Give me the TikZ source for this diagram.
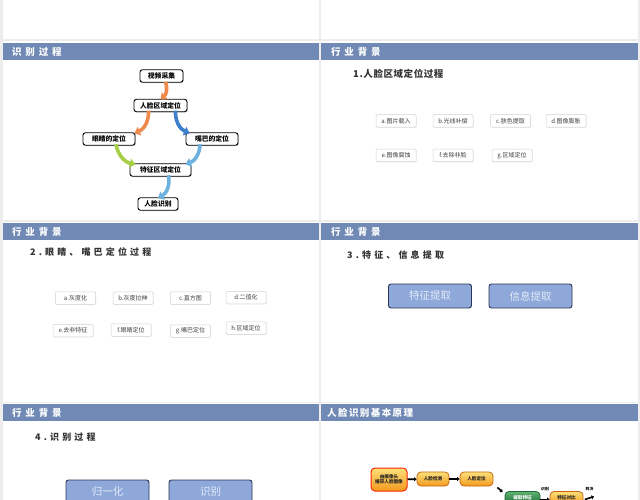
\documentclass[tikz,border=0pt]{standalone}
\usepackage{fontspec}
\setmainfont{Noto Sans CJK SC}
\newfontfamily\hdrfont{Noto Sans CJK SC}[LetterSpace=40]
\newfontfamily\hdrfontb{Noto Sans CJK SC}[LetterSpace=15]
\newfontfamily\ttlfont{Noto Sans CJK SC}[LetterSpace=35]
\newfontfamily\ttlfontb{Noto Sans CJK SC}[LetterSpace=6]
\usetikzlibrary{arrows.meta,shadows,calc}
\definecolor{bggray}{HTML}{EDEDED}
\definecolor{hdrblue}{HTML}{7189B5}
\definecolor{ttlgray}{HTML}{333333}
\definecolor{arrorange}{HTML}{EE8A4C}
\definecolor{arrblue}{HTML}{3F7FCB}
\definecolor{arrgreen}{HTML}{A6CF45}
\definecolor{arrlblue}{HTML}{6DB2DC}
\definecolor{btnfill}{HTML}{8EA8DA}
\definecolor{btnline}{HTML}{2A3756}
\definecolor{btntext}{HTML}{E4EBF7}
\definecolor{oratop}{HTML}{FCE07A}
\definecolor{orabot}{HTML}{F39A1E}
\definecolor{oraline}{HTML}{C8650F}
\definecolor{grntop}{HTML}{5FB36F}
\definecolor{grnbot}{HTML}{1E6B38}
\tikzset{
  hdrtxt/.style={anchor=west, text=white, inner sep=0pt, font=\hdrfont\bfseries\fontsize{9.5}{10}\selectfont},
  ttl/.style={anchor=west, text=ttlgray, inner sep=0pt, font=\ttlfont\bfseries\fontsize{9}{10}\selectfont},
  fbox/.style={draw=black, line width=0.9pt, rounded corners=2.5pt, fill=white, inner sep=1pt,
    minimum height=12.5pt, font=\bfseries\fontsize{6.8}{7}\selectfont,
    drop shadow={opacity=0.35, shadow xshift=0.8pt, shadow yshift=-0.8pt}},
  sbox/.style={draw=gray!35, line width=0.5pt, rounded corners=1pt, fill=white, inner sep=1pt,
    minimum width=40pt, minimum height=12.5pt, text=black!75, font=\fontsize{6}{6}\selectfont,
    drop shadow={opacity=0.15, shadow xshift=0.6pt, shadow yshift=-0.6pt}},
  btn/.style={draw=btnline, line width=0.9pt, rounded corners=2.5pt, fill=btnfill,
    minimum width=83pt, minimum height=24pt, text=btntext, font=\fontsize{10.5}{11}\selectfont},
  fat/.style={line width=3.6pt, -{Triangle[width=9pt,length=5.5pt]}},
  obox/.style={draw=oraline, line width=0.8pt, rounded corners=4pt, top color=oratop, bottom color=orabot,
    minimum height=14pt, inner sep=1pt, text=black!85, font=\bfseries\fontsize{4.6}{5.4}\selectfont},
  gbox/.style={draw=grnbot, line width=0.8pt, rounded corners=4pt, top color=grntop, bottom color=grnbot,
    minimum height=14pt, inner sep=1pt, text=white, font=\bfseries\fontsize{4.6}{5.4}\selectfont},
  smallarr/.style={line width=1.6pt, -{Triangle[width=4pt,length=2.5pt]}},
  tinylbl/.style={inner sep=0pt, font=\bfseries\fontsize{3.8}{4}\selectfont}
}
\begin{document}
\begin{tikzpicture}[x=1pt,y=-1pt]
\useasboundingbox (0,0) rectangle (640,500);
\clip (0,0) rectangle (640,500);
\fill[bggray] (0,0) rectangle (640,500);
% slides
\foreach \sx/\ex in {2.5/318.5,321/637.5}{
  \fill[white] (\sx,-5) rectangle (\ex,39.5);
  \fill[white] (\sx,41.5) rectangle (\ex,219.5);
  \fill[white] (\sx,221.5) rectangle (\ex,401.5);
  \fill[white] (\sx,402.8) rectangle (\ex,505);
  \fill[hdrblue] (\sx,43) rectangle (\ex,60);
  \fill[hdrblue] (\sx,222.5) rectangle (\ex,240);
  \fill[hdrblue] (\sx,403.5) rectangle (\ex,421);
}
% header texts
\node[hdrtxt] (h1) at (12,52) {识别过程};
\node[hdrtxt] (h2) at (331,52) {行业背景};
\node[hdrtxt] (h3) at (12,231.5) {行业背景};
\node[hdrtxt] (h4) at (331,231.5) {行业背景};
\node[hdrtxt] (h5) at (12,412.5) {行业背景};
\node[hdrtxt, font=\hdrfontb\bfseries\fontsize{9.5}{10}\selectfont] (h6) at (327,412.5) {人脸识别基本原理};

% ---- slide 1: flowchart
\node[fbox, minimum width=43pt] (vid) at (161.5,76) {视频采集};
\node[fbox, minimum width=53pt] (roi) at (160.5,105.5) {人脸区域定位};
\node[fbox, minimum width=52pt] (eye) at (109,139) {眼睛的定位};
\node[fbox, minimum width=52pt] (mouth) at (212,139) {嘴巴的定位};
\node[fbox, minimum width=61pt] (feat) at (160.5,170) {特征区域定位};
\node[fbox, minimum width=40pt] (rec) at (158,204) {人脸识别};
\draw[fat, arrorange] ([xshift=4pt,yshift=1pt]vid.south) to[bend left=35] ([xshift=0pt,yshift=-0.5pt]roi.north);
\draw[fat, arrorange] ([xshift=-12pt,yshift=1.5pt]roi.south) to[bend left=35] ([xshift=-1pt,yshift=-1pt]eye.north east);
\draw[fat, arrblue] ([xshift=15pt,yshift=1.5pt]roi.south) to[bend right=35] ([xshift=4pt,yshift=-1pt]mouth.north west);
\draw[fat, arrgreen] ([xshift=7pt,yshift=1.5pt]eye.south) to[bend right=35] ([xshift=-25pt,yshift=-1pt]feat.north);
\draw[fat, arrlblue] ([xshift=-12pt,yshift=1.5pt]mouth.south) to[bend left=35] ([xshift=25pt,yshift=-1pt]feat.north);
\draw[fat, arrlblue] ([xshift=8pt,yshift=1.5pt]feat.south) to[bend left=35] ([xshift=0pt,yshift=-1pt]rec.north);

% ---- slide 2
\node[ttl, font=\ttlfontb\bfseries\fontsize{9.5}{10}\selectfont] (t1) at (353,73.5) {1.人脸区域定位过程};
\node[sbox] (s2a) at (396,121) {a.图片载入};
\node[sbox] (s2b) at (453,121) {b.光线补偿};
\node[sbox] (s2c) at (510.5,121) {c.肤色提取};
\node[sbox] (s2d) at (566,121) {d.图像膨胀};
\node[sbox] (s2e) at (396,155.5) {e.图像腐蚀};
\node[sbox] (s2f) at (453,155.5) {f.去除非脸};
\node[sbox] (s2g) at (512,155.5) {g.区域定位};

% ---- slide 3
\node[ttl] (t2) at (30,252.5) {2.眼睛、嘴巴定位过程};
\node[sbox] (s3a) at (75.5,298) {a.灰度化};
\node[sbox] (s3b) at (133,298) {b.灰度拉伸};
\node[sbox] (s3c) at (190.5,298) {c.直方图};
\node[sbox] (s3d) at (246,297.5) {d.二值化};
\node[sbox] (s3e) at (73,330.5) {e.去非特征};
\node[sbox] (s3f) at (131,330) {f.眼睛定位};
\node[sbox] (s3g) at (190.5,331) {g.嘴巴定位};
\node[sbox] (s3h) at (246,328) {h.区域定位};

% ---- slide 4
\node[ttl] (t3) at (347,255) {3.特征、信息提取};
\node[btn] (b1) at (430,296) {特征提取};
\node[btn] (b2) at (530.5,296) {信息提取};

% ---- slide 5
\node[ttl] (t4) at (35,437.5) {4.识别过程};
\node[btn] (b3) at (107.5,492) {归一化};
\node[btn] (b4) at (210.5,492) {识别};

% ---- slide 6
\node[obox, draw=red!70!orange, line width=1pt, minimum width=36pt, minimum height=23pt, align=center] (p1) at (389,479.5) {由摄像头\\捕获人脸图像};
\node[obox, minimum width=32pt] (p2) at (433,479) {人脸检测};
\node[obox, minimum width=33pt] (p3) at (476.5,479) {人脸定位};
\node[gbox, minimum width=35pt, minimum height=13pt] (p4) at (522.5,498) {提取特征};
\node[obox, minimum width=33pt, minimum height=13pt] (p5) at (566.5,498) {特征对比};
\coordinate (pend) at (594,496.5);
\draw[smallarr] (p1) -- (p2);
\draw[smallarr] (p2) -- (p3);
\draw[smallarr] ([xshift=4pt,yshift=-1pt]p3.south east) -- ([xshift=-2pt,yshift=-1pt]p4.north west);
\draw[smallarr] ([yshift=-1.5pt]p4.east) -- ([yshift=-1.5pt]p5.west);
\draw[smallarr] ([xshift=1.5pt,yshift=-1.5pt]p5.east) -- (pend);
\node[tinylbl] (l1) at (545,489.5) {识别};
\node[tinylbl] (l2) at (589.5,489.5) {判决};
\end{tikzpicture}
\end{document}
